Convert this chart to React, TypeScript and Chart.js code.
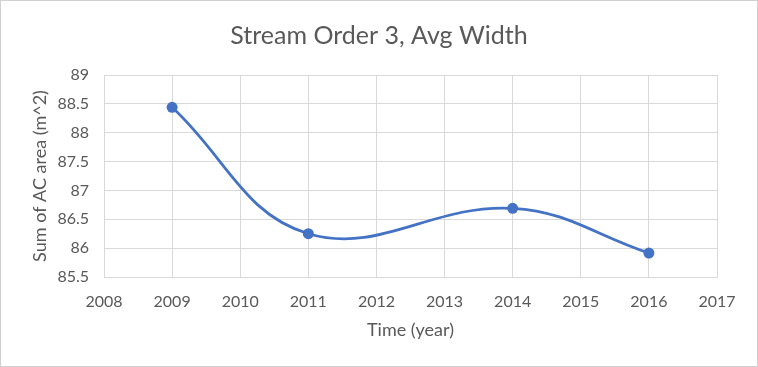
import React, { useEffect, useRef } from "react";
import { Chart, registerables } from "chart.js";

Chart.register(...registerables);

const years = [2009, 2011, 2014, 2016];
const avgWidth = [88.44, 86.25, 86.69, 85.915];
const xTicks = [2008, 2009, 2010, 2011, 2012, 2013, 2014, 2015, 2016, 2017];
const yTicks = [85.5, 86, 86.5, 87, 87.5, 88, 88.5, 89];

const TEXT = "#595959";
const GRID = "#d9d9d9";
const FONT = "Lato";

const borderPlugin = {
  id: "outerBorder",
  beforeDraw(chart: any) {
    const { ctx, width, height } = chart;
    ctx.save();
    ctx.fillStyle = "#ffffff";
    ctx.fillRect(0, 0, width, height);
    ctx.restore();
  },
  afterDraw(chart: any) {
    const { ctx, width, height } = chart;
    ctx.save();
    ctx.strokeStyle = "#d0d0d0";
    ctx.lineWidth = 1;
    ctx.strokeRect(0.5, 0.5, width - 1, height - 1);
    ctx.restore();
  },
};

export default function App() {
  const ref = useRef<HTMLCanvasElement | null>(null);
  useEffect(() => {
    document.body.style.margin = "0";
    if (!ref.current) return;
    const chart = new Chart(ref.current, {
      type: "line",
      data: {
        datasets: [
          {
            data: years.map((y, i) => ({ x: y, y: avgWidth[i] })),
            borderColor: "#4472C4",
            backgroundColor: "#4472C4",
            borderWidth: 2.75,
            pointRadius: 5.5,
            pointHoverRadius: 5.5,
            pointBorderWidth: 0,
            tension: 0.4,
            fill: false,
          },
        ],
      },
      options: {
        responsive: false,
        animation: false,
        layout: { padding: 0 },
        plugins: {
          legend: { display: false },
          tooltip: { enabled: false },
          title: {
            display: true,
            text: "Stream Order 3, Avg Width",
            color: TEXT,
            font: { family: FONT, size: 25, weight: "normal" },
            padding: { top: 21, bottom: 24 },
          },
        },
        scales: {
          x: {
            type: "linear",
            min: 2008,
            max: 2017,
            afterBuildTicks: (scale: any) => {
              scale.ticks = xTicks.map((v) => ({ value: v }));
            },
            afterFit: (scale: any) => {
              scale.height = 90;
              scale.paddingRight = 41;
            },
            ticks: {
              color: TEXT,
              font: { family: FONT, size: 16 },
              padding: 15,
              maxRotation: 0,
              autoSkip: false,
              callback: (v: any) => String(v),
            },
            grid: { color: GRID, lineWidth: 1, drawTicks: false },
            border: { color: GRID, width: 1 },
            title: {
              display: true,
              text: "Time (year)",
              color: TEXT,
              font: { family: FONT, size: 18 },
              padding: { top: 0, bottom: 26 },
            },
          },
          y: {
            type: "linear",
            min: 85.5,
            max: 89,
            afterBuildTicks: (scale: any) => {
              scale.ticks = yTicks.map((v) => ({ value: v }));
            },
            afterFit: (scale: any) => {
              scale.width = 104;
            },
            ticks: {
              color: TEXT,
              font: { family: FONT, size: 16 },
              padding: 15,
              autoSkip: false,
              callback: (v: any) => String(v),
            },
            grid: { color: GRID, lineWidth: 1, drawTicks: false },
            border: { color: GRID, width: 1 },
            title: {
              display: true,
              text: "Sum of AC area (m^2)",
              color: TEXT,
              font: { family: FONT, size: 18 },
              padding: { top: 29, bottom: 0 },
            },
          },
        },
      },
      plugins: [borderPlugin],
    });
    return () => chart.destroy();
  }, []);
  return <canvas ref={ref} width={758} height={367} style={{ display: "block" }} />;
}
